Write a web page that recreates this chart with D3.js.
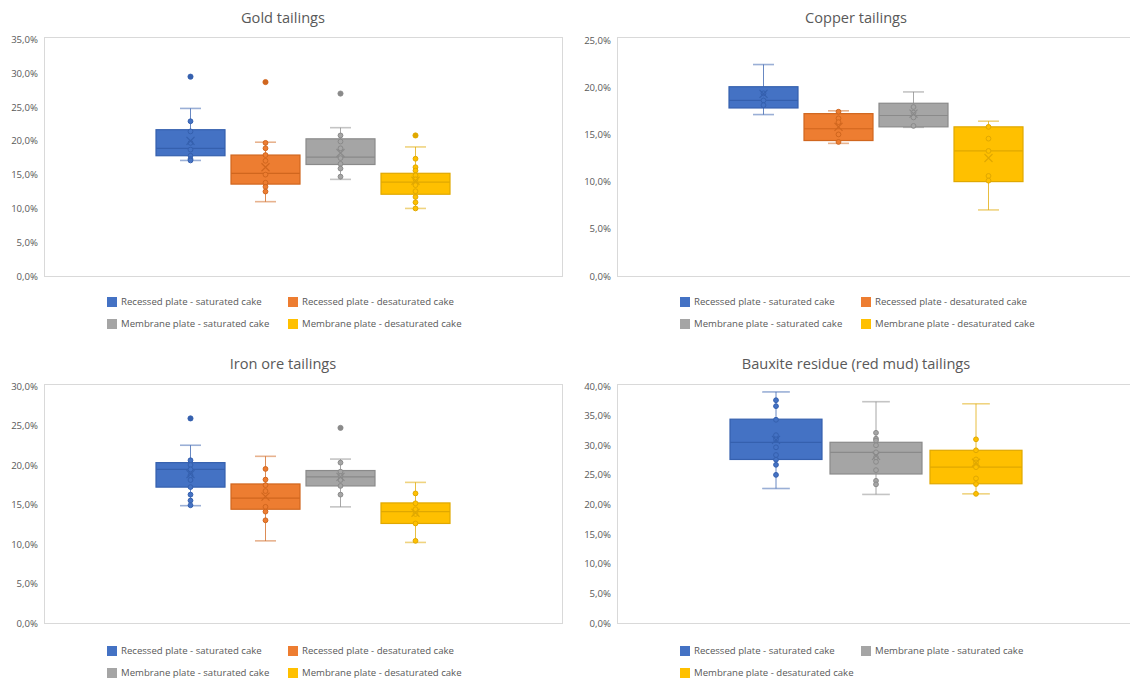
<!DOCTYPE html>
<html>
<head>
<meta charset="utf-8">
<script src="https://cdn.jsdelivr.net/npm/d3@7"></script>
<style>
  html, body { margin: 0; padding: 0; background: #fff; }
  svg { display: block; font-family: "Open Sans", "Noto Sans", sans-serif; }
</style>
</head>
<body>
<svg id="chart" width="1130" height="680"></svg>
<script>
// Filter press trials: moisture content of the cake, in percent.
const seriesNames = [
  "Recessed plate - saturated cake",
  "Recessed plate - desaturated cake",
  "Membrane plate - saturated cake",
  "Membrane plate - desaturated cake"
];

// Box statistics per series: [whisker low, Q1, median, Q3, whisker high, mean]
const goldSeries = [0, 1, 2, 3];
const goldBoxes = [
  [17.1, 17.8, 18.9, 21.65, 24.8, 20.0],
  [11.0, 13.6, 15.2, 17.9, 19.8, 16.1],
  [14.3, 16.5, 17.6, 20.3, 21.95, 18.2],
  [10.0, 12.1, 13.9, 15.2, 19.1, 14.1]
];
const goldPoints = [
  [22.9, 21.4, 19.7, 18.7, 17.8, 17.3, 17.1],
  [19.7, 18.9, 17.9, 17.05, 15.0, 13.8, 13.2, 12.5],
  [20.8, 19.9, 18.9, 17.45, 16.6, 15.9, 14.7],
  [17.35, 16.1, 15.6, 14.9, 14.3, 13.45, 12.55, 11.7, 10.9, 10.0]
];
const goldOutliers = [[29.5], [28.7], [27.0], [20.8]];
const goldTicks = [0, 5, 10, 15, 20, 25, 30, 35];

const copperSeries = [0, 1, 2, 3];
const copperBoxes = [
  [17.1, 17.8, 18.6, 20.05, 22.4, 19.3],
  [14.05, 14.35, 15.6, 17.2, 17.5, 15.8],
  [15.75, 15.8, 17.0, 18.3, 19.5, 17.2],
  [7.0, 10.0, 13.25, 15.8, 16.4, 12.5]
];
const copperPoints = [
  [19.35, 18.6, 18.1],
  [17.4, 16.7, 16.3, 15.0, 14.2],
  [17.9, 17.3, 16.8, 15.9],
  [15.8, 14.55, 13.25, 10.6, 10.1]
];
const copperOutliers = [[], [], [], []];
const copperTicks = [0, 5, 10, 15, 20, 25];

const ironSeries = [0, 1, 2, 3];
const ironBoxes = [
  [14.85, 17.2, 19.45, 20.3, 22.5, 18.85],
  [10.4, 14.4, 15.8, 17.6, 21.1, 16.0],
  [14.7, 17.35, 18.5, 19.3, 20.75, 18.5],
  [10.2, 12.6, 14.1, 15.2, 17.8, 13.95]
];
const ironPoints = [
  [20.6, 20.0, 19.45, 18.7, 18.1, 17.2, 16.25, 15.5, 14.9],
  [19.5, 18.15, 17.45, 16.7, 14.7, 14.1, 13.0],
  [20.3, 19.15, 18.6, 18.1, 17.35, 16.25],
  [16.4, 15.15, 14.4, 13.8, 12.6, 10.4]
];
const ironOutliers = [[25.9], [], [24.7], []];
const ironTicks = [0, 5, 10, 15, 20, 25, 30];

const bauxiteSeries = [0, 2, 3];
const bauxiteBoxes = [
  [22.7, 27.6, 30.5, 34.4, 39.0, 30.9],
  [21.7, 25.15, 28.8, 30.5, 37.35, 28.2],
  [21.8, 23.5, 26.3, 29.15, 37.0, 27.05]
];
const bauxitePoints = [
  [37.6, 36.6, 34.3, 31.7, 31.0, 29.65, 28.35, 27.55, 26.7, 25.0],
  [32.1, 31.1, 30.8, 30.0, 28.8, 27.95, 27.2, 25.8, 24.0, 23.4],
  [31.0, 29.15, 27.6, 27.1, 26.3, 24.4, 23.45, 21.8]
];
const bauxiteOutliers = [[], [], []];
const bauxiteTicks = [0, 5, 10, 15, 20, 25, 30, 35, 40];

// Series styling
const fillColors = ["#4472C4", "#ED7D31", "#A5A5A5", "#FFC000"];
const lineColors = ["#3560AE", "#D0661E", "#8A8A8A", "#E0A800"];
const textColor = "#595959";

const svg = d3.select("#chart");
const pct = d => d.toFixed(1).replace(".", ",") + "%";

function drawPanel(cfg) {
  const { title, titleX, titleY, left, right, top, bottom, yTop, yBottom,
          ticks, series, boxes, points, outliers, legendY } = cfg;
  const g = svg.append("g");

  // Plot area outline
  g.append("rect")
    .attr("x", left + 0.5).attr("y", top + 0.5)
    .attr("width", right - left).attr("height", bottom - top)
    .attr("fill", "none").attr("stroke", "#D9D9D9").attr("stroke-width", 1);

  g.append("text")
    .attr("x", titleX).attr("y", titleY)
    .attr("text-anchor", "middle")
    .attr("font-size", 14.6).attr("fill", textColor)
    .text(title);

  const y = d3.scaleLinear().domain([0, d3.max(ticks)]).range([yBottom, yTop]);

  const axis = d3.axisLeft(y).tickValues(ticks).tickFormat(pct).tickSize(0).tickPadding(6);
  const ag = g.append("g").attr("transform", `translate(${left},0)`).call(axis);
  ag.select(".domain").remove();
  ag.selectAll("text").attr("fill", textColor).attr("font-size", 9.6)
    .attr("font-family", "\"Open Sans\", sans-serif");

  // One category holding all series side by side
  const mid = (left + right) / 2;
  const groupW = 300;
  const x = d3.scaleBand()
    .domain(series.map((s, i) => i))
    .range([mid - groupW / 2, mid + groupW / 2])
    .paddingInner(0.08).paddingOuter(0.04);
  const bw = x.bandwidth();

  series.forEach((s, i) => {
    const [lo, q1, med, q3, hi, mean] = boxes[i];
    const x0 = x(i), cx = x0 + bw / 2;
    const fill = fillColors[s], line = lineColors[s];
    const capW = bw * 0.29;
    const sg = g.append("g");

    // whiskers
    sg.append("line").attr("x1", cx).attr("x2", cx).attr("y1", y(hi)).attr("y2", y(q3))
      .attr("stroke", line).attr("stroke-opacity", 0.75);
    sg.append("line").attr("x1", cx).attr("x2", cx).attr("y1", y(q1)).attr("y2", y(lo))
      .attr("stroke", line).attr("stroke-opacity", 0.75);
    [hi, lo].forEach(v => {
      sg.append("line").attr("x1", cx - capW / 2 - 0.5).attr("x2", cx + capW / 2 + 0.5)
        .attr("y1", y(v)).attr("y2", y(v))
        .attr("stroke", line).attr("stroke-width", 1.6).attr("stroke-opacity", 0.5);
    });

    // box
    sg.append("rect")
      .attr("x", x0).attr("y", y(q3))
      .attr("width", bw).attr("height", y(q1) - y(q3))
      .attr("fill", fill).attr("stroke", line).attr("stroke-width", 1.2);
    sg.append("line").attr("x1", x0).attr("x2", x0 + bw).attr("y1", y(med)).attr("y2", y(med))
      .attr("stroke", line).attr("stroke-width", 1.2);

    // inner points and outliers
    sg.selectAll("circle.pt").data(points[i]).join("circle")
      .attr("class", "pt")
      .attr("cx", cx).attr("cy", d => y(d)).attr("r", 2.4)
      .attr("fill", fill).attr("stroke", line).attr("stroke-width", 1);
    sg.selectAll("circle.out").data(outliers[i]).join("circle")
      .attr("class", "out")
      .attr("cx", cx).attr("cy", d => y(d)).attr("r", 2.6)
      .attr("fill", line).attr("stroke", line).attr("stroke-width", 0.8);

    // mean marker
    const m = 4, my = y(mean);
    sg.append("path")
      .attr("d", `M${cx - m},${my - m}L${cx + m},${my + m}M${cx - m},${my + m}L${cx + m},${my - m}`)
      .attr("stroke", line).attr("stroke-width", 1.2).attr("fill", "none");
  });

  // legend, two columns
  const lg = g.append("g");
  series.forEach((s, i) => {
    const col = i % 2, row = Math.floor(i / 2);
    const lx = left + 63 + col * 181, ly = legendY + row * 22;
    lg.append("rect").attr("x", lx).attr("y", ly - 5).attr("width", 10).attr("height", 10)
      .attr("fill", fillColors[s]);
    lg.append("text").attr("x", lx + 14).attr("y", ly).attr("dy", "0.35em")
      .attr("font-size", 9.6).attr("fill", textColor).text(seriesNames[s]);
  });
}

drawPanel({
  title: "Gold tailings", titleX: 283, titleY: 23,
  left: 44, right: 562, top: 37, bottom: 276, yTop: 39.5, yBottom: 276,
  ticks: goldTicks, series: goldSeries, boxes: goldBoxes,
  points: goldPoints, outliers: goldOutliers, legendY: 302
});
drawPanel({
  title: "Copper tailings", titleX: 856, titleY: 23,
  left: 617, right: 1135, top: 37, bottom: 276, yTop: 40, yBottom: 276,
  ticks: copperTicks, series: copperSeries, boxes: copperBoxes,
  points: copperPoints, outliers: copperOutliers, legendY: 302
});
drawPanel({
  title: "Iron ore tailings", titleX: 283, titleY: 369,
  left: 44, right: 562, top: 384, bottom: 623, yTop: 386, yBottom: 623,
  ticks: ironTicks, series: ironSeries, boxes: ironBoxes,
  points: ironPoints, outliers: ironOutliers, legendY: 651
});
drawPanel({
  title: "Bauxite residue (red mud) tailings", titleX: 856, titleY: 369,
  left: 617, right: 1135, top: 384, bottom: 623, yTop: 386, yBottom: 623,
  ticks: bauxiteTicks, series: bauxiteSeries, boxes: bauxiteBoxes,
  points: bauxitePoints, outliers: bauxiteOutliers, legendY: 651
});
</script>
</body>
</html>
